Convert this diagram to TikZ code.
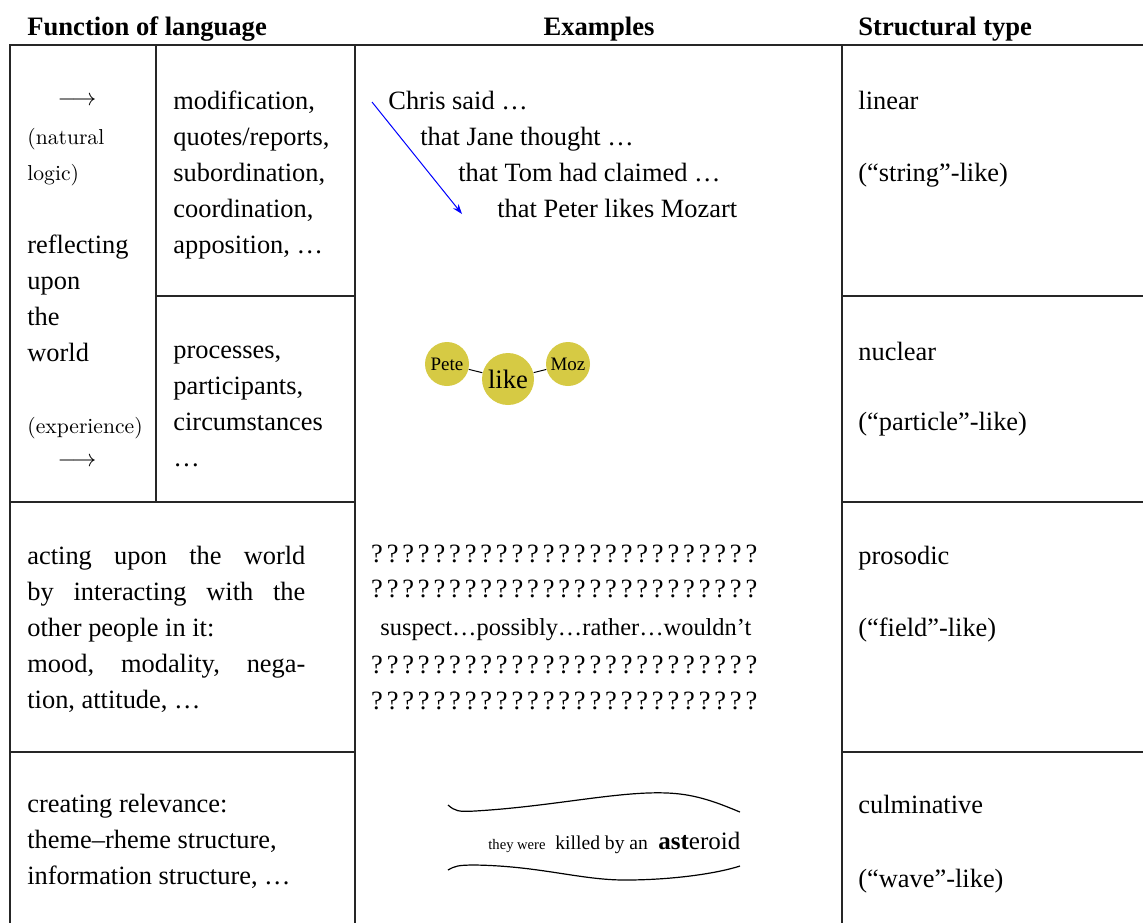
\documentclass[tikz,border=0pt]{standalone}
\usepackage{fontspec}
\setmainfont{Liberation Serif}
\newfontfamily\lmfont{Latin Modern Roman}
\usetikzlibrary{arrows.meta}
\definecolor{nucleus}{RGB}{214,202,68}
\newcommand{\filet}[3]{\draw[trait] (#1,#3) -- (#2,#3)}
\newcommand{\montant}[3]{\draw[trait] (#1,#2) -- (#1,#3)}
\tikzset{
	trait/.style={line width=0.75pt, black!85},
	corps/.style={font=\fontsize{13.2}{18}\selectfont, inner sep=0pt, anchor=base west, align=left},
	tete/.style={font=\fontsize{13.3}{18}\selectfont\bfseries, inner sep=0pt, anchor=base west},
	glose/.style={font=\lmfont\fontsize{10.8}{18}\selectfont, inner sep=0pt, anchor=base west, align=left},
	noyau/.style={circle, fill=nucleus, inner sep=0pt, minimum size=#1}
}

\begin{document}
\begin{tikzpicture}[x=0.5pt, y=-0.5pt]
	\useasboundingbox (0,0) rectangle (1143,923);
	% headers
	\node[tete] (h1) at (27,35) {Function of language};
	\node[tete, anchor=base] (h2) at (599,35) {Examples};
	\node[tete] (h3) at (858,35) {Structural type};
	% rules
	\filet{9}{1143}{45};
	\montant{10}{45}{923};
	\montant{156}{45}{502};
	\montant{355}{45}{923};
	\montant{842}{45}{923};
	\filet{156}{355}{296};
	\filet{842}{1143}{296};
	\filet{10}{355}{502};
	\filet{842}{1143}{502};
	\filet{10}{355}{752};
	\filet{842}{1143}{752};
	% function of language (multi-line nodes sit on their last line)
	\node[corps, anchor=center] (fl1) at (77,101) {$\longrightarrow$};
	\node[glose] (nat) at (27,180) {(natural\\logic)};
	\node[corps] (refl) at (27,361) {reflecting\\upon\\the\\world};
	\node[glose] (exp) at (27,433) {(experience)};
	\node[corps, anchor=center] (fl2) at (77,462) {$\longrightarrow$};
	\node[corps] (logi) at (173,253) {modification,\\quotes/reports,\\subordination,\\coordination,\\apposition, …};
	\node[corps] (expe) at (173,466) {processes,\\participants,\\circumstances\\…};
	% (a justified block sits on its first line)
	\node[corps, text width=139pt, align=justify] (inter) at (27,564)
		{acting upon the world\linebreak by interacting with the\linebreak other people in it:\\mood, modality, nega-\linebreak tion, attitude, …};
	\node[corps] (text) at (27,884) {creating relevance:\\theme–rheme structure,\\information structure, …};
	% examples
	\node[corps] (ex1) at (388,109) {Chris said …};
	\node[corps] (ex2) at (420,145) {that Jane thought …};
	\node[corps] (ex3) at (458,181) {that Tom had claimed …};
	\node[corps] (ex4) at (497,217) {that Peter likes Mozart};
	\coordinate (d0) at (372,102);
	\coordinate (d1) at (462,214);
	\draw[blue, line width=0.5pt, -{Stealth[length=5pt, width=3.5pt]}] (d0) -- (d1);
	\node[noyau=22pt, font=\fontsize{9.5}{10}\selectfont] (pete) at (447,364) {Pete};
	\node[noyau=26pt, font=\fontsize{13.3}{14}\selectfont] (like) at (508,379) {like};
	\node[noyau=22pt, font=\fontsize{9.5}{10}\selectfont] (moz) at (568,364) {Moz};
	\draw[line width=0.5pt] (pete) -- (like);
	\draw[line width=0.5pt] (like) -- (moz);
	\foreach \rang/\yq in {a/562,b/597,c/673,d/709}
		\foreach \i in {0,...,24}
			\node[corps, anchor=base] (q\rang\i) at ({377+15.6*\i},\yq) {?};
	\node[corps, font=\fontsize{12.2}{14}\selectfont] (modal) at (380,635) {suspect…possibly…rather…wouldn’t};
	\draw[line width=0.6pt] (448,805) .. controls (455,811) and (458,812) .. (475,811)
		.. controls (560,806) and (630,788) .. (680,794) .. controls (705,797) and (725,806) .. (740,812);
	\draw[line width=0.6pt] (448,870) .. controls (455,866) and (458,865) .. (475,865)
		.. controls (540,866) and (580,880) .. (625,880) .. controls (670,880) and (715,874) .. (740,866);
	\node[corps, font=\fontsize{7.3}{8}\selectfont] (wv1) at (488,849) {they were};
	\node[corps, font=\fontsize{9.8}{10}\selectfont] (wv2) at (555,849) {killed by an};
	\node[corps, font=\fontsize{12.5}{13}\selectfont] (wv3) at (658,849) {\textbf{ast}eroid};
	% structural type
	\node[corps] (st1) at (858,109) {linear};
	\node[corps] (st2) at (858,181) {(“string”-like)};
	\node[corps] (st3) at (858,360) {nuclear};
	\node[corps] (st4) at (858,430) {(“particle”-like)};
	\node[corps] (st5) at (858,564) {prosodic};
	\node[corps] (st6) at (858,636) {(“field”-like)};
	\node[corps] (st7) at (858,813) {culminative};
	\node[corps] (st8) at (858,887) {(“wave”-like)};
\end{tikzpicture}
\end{document}
